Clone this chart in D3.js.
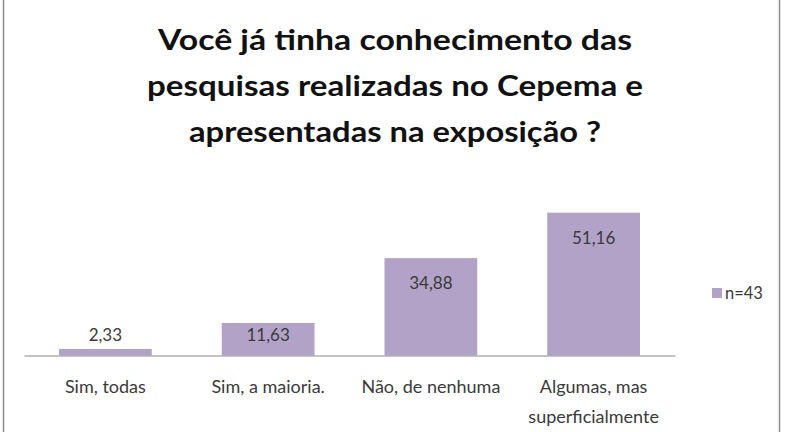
<!DOCTYPE html>
<html>
<head>
<meta charset="utf-8">
<script src="https://cdn.jsdelivr.net/npm/d3@7"></script>
<style>
  body { margin: 0; background: #fff; }
  svg { display: block; font-family: Lato, "Open Sans", sans-serif; }
</style>
</head>
<body>
<div id="chart"></div>
<script>
// Survey answers (percent, n=43)
const categories = ["Sim, todas", "Sim, a maioria.", "Não, de nenhuma", "Algumas, mas superficialmente"];
const categoryLines = [["Sim, todas"], ["Sim, a maioria."], ["Não, de nenhuma"], ["Algumas, mas", "superficialmente"]];
const values = [2.33, 11.63, 34.88, 51.16];
const valueLabels = ["2,33", "11,63", "34,88", "51,16"];
const seriesName = "n=43";
const titleLines = [
    "Você já tinha conhecimento das",
    "pesquisas realizadas no Cepema e",
    "apresentadas na exposição ?"
];

const width = 792;
const height = 432;
const barColor = "#b3a2c7";
const textColor = "#3a3a3a";

const svg = d3.select("#chart")
    .append("svg")
    .attr("width", width)
    .attr("height", height);

// outer frame
svg.append("rect")
    .attr("x", 3.5)
    .attr("y", -2)
    .attr("width", 776)
    .attr("height", height + 4)
    .attr("fill", "none")
    .attr("stroke", "#8c8c8c")
    .attr("stroke-width", 1.5);

// title
const titleWidths = [474, 496, 412];
svg.append("g")
    .selectAll("text")
    .data(titleLines)
    .enter()
    .append("text")
    .attr("x", 395)
    .attr("y", (d, i) => 50 + i * 46)
    .attr("text-anchor", "middle")
    .attr("font-size", 28)
    .attr("font-weight", "bold")
    .attr("fill", "#111")
    .attr("textLength", (d, i) => titleWidths[i])
    .attr("lengthAdjust", "spacingAndGlyphs")
    .text(d => d);

// scales
const x = d3.scaleBand()
    .domain(categories)
    .range([24, 675])
    .paddingInner(0.43)
    .paddingOuter(0.215);

const y = d3.scaleLinear()
    .domain([0, 60])
    .range([355.5, 188]);

// bars
svg.selectAll("rect.bar")
    .data(values)
    .enter()
    .append("rect")
    .attr("class", "bar")
    .attr("x", (d, i) => x(categories[i]))
    .attr("y", d => y(d))
    .attr("width", x.bandwidth())
    .attr("height", d => y(0) - y(d))
    .attr("fill", barColor);

// category axis line
svg.append("g")
    .attr("transform", `translate(0, ${y(0)})`)
    .call(d3.axisBottom(x).tickSize(0).tickFormat(""))
    .call(g => g.select(".domain").attr("stroke", "#8a8a8a").attr("stroke-width", 1.2));

// value labels
svg.selectAll("text.value")
    .data(values)
    .enter()
    .append("text")
    .attr("class", "value")
    .attr("x", (d, i) => x(categories[i]) + x.bandwidth() / 2)
    .attr("y", d => Math.min(y(d) + 25, 335))
    .attr("dy", "0.35em")
    .attr("text-anchor", "middle")
    .attr("font-size", 17)
    .attr("fill", textColor)
    .text((d, i) => valueLabels[i]);

// category labels
const catLabels = svg.selectAll("text.cat")
    .data(categories)
    .enter()
    .append("text")
    .attr("class", "cat")
    .attr("x", d => x(d) + x.bandwidth() / 2)
    .attr("y", 393)
    .attr("text-anchor", "middle")
    .attr("font-size", 18)
    .attr("fill", textColor);

catLabels.selectAll("tspan")
    .data((d, i) => categoryLines[i])
    .enter()
    .append("tspan")
    .attr("x", function () { return d3.select(this.parentNode).attr("x"); })
    .attr("dy", (d, j) => j === 0 ? 0 : 30)
    .text(d => d);

// legend
const legend = svg.append("g")
    .attr("transform", "translate(712, 288)");

legend.append("rect")
    .attr("width", 10)
    .attr("height", 10)
    .attr("fill", barColor);

legend.append("text")
    .attr("x", 13)
    .attr("y", 5)
    .attr("dy", "0.35em")
    .attr("font-size", 16.5)
    .attr("fill", textColor)
    .text(seriesName);
</script>
</body>
</html>
